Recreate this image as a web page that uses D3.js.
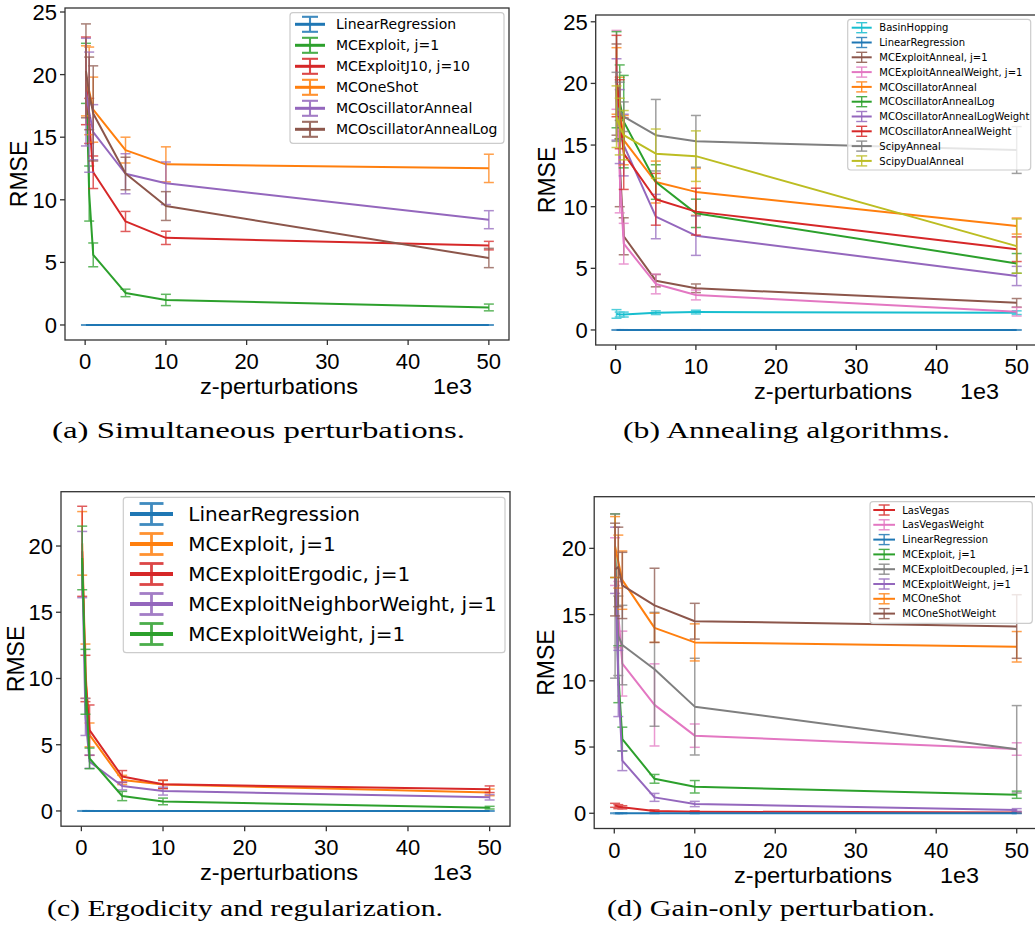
<!DOCTYPE html>
<html>
<head>
<meta charset="utf-8">
<script src="https://cdn.jsdelivr.net/npm/d3@7"></script>
<style>
  body { margin: 0; background: #fff; }
  svg text { font-family: "Liberation Sans", Arial, sans-serif; fill: #000; }
</style>
</head>
<body>
<svg id="fig" width="1035" height="930"></svg>
<script>
// x positions in units of 1e3 z-perturbations
const xVals = [0.1, 0.5, 1, 5, 10, 50];
const xTicks = [0, 10, 20, 30, 40, 50];

// tab10 colours
const C = {blue: "#1f77b4", orange: "#ff7f0e", green: "#2ca02c", red: "#d62728", purple: "#9467bd",
           brown: "#8c564b", pink: "#e377c2", gray: "#7f7f7f", olive: "#bcbd22", cyan: "#17becf"};

// (a) Simultaneous perturbations
const namesA = ["LinearRegression", "MCExploit, j=1", "MCExploitJ10, j=10", "MCOneShot", "MCOscillatorAnneal", "MCOscillatorAnnealLog"];
const colorsA = [C.blue, C.green, C.red, C.orange, C.purple, C.brown];
const meanA = [
  [0, 0, 0, 0, 0, 0],
  [20.1, 10.5, 5.6, 2.56, 2.0, 1.4],
  [19.5, 16.3, 12.2, 8.27, 6.96, 6.34],
  [19.5, 18.7, 17.2, 13.97, 12.83, 12.51],
  [18.6, 17.0, 15.4, 12.08, 11.32, 8.41],
  [20.3, 18.5, 16.9, 12.1, 9.5, 5.35]
];
const errA = [
  [0.02, 0.02, 0.02, 0.02, 0.02, 0.02],
  [2.4, 2.2, 0.95, 0.3, 0.45, 0.27],
  [3.5, 1.8, 1.3, 0.8, 0.53, 0.34],
  [2.8, 3.5, 2.6, 1.03, 1.4, 1.13],
  [4.3, 4.8, 2.2, 1.6, 1.7, 0.72],
  [3.75, 2.9, 3.8, 1.3, 1.15, 0.77]
];

// (b) Annealing algorithms
const namesB = ["BasinHopping", "LinearRegression", "MCExploitAnneal, j=1", "MCExploitAnnealWeight, j=1", "MCOscillatorAnneal",
                "MCOscillatorAnnealLog", "MCOscillatorAnnealLogWeight", "MCOscillatorAnnealWeight", "ScipyAnneal", "ScipyDualAnneal"];
const colorsB = [C.cyan, C.blue, C.brown, C.pink, C.orange, C.green, C.purple, C.red, C.gray, C.olive];
const meanB = [
  [1.3, 1.25, 1.25, 1.4, 1.45, 1.4],
  [0, 0, 0, 0, 0, 0],
  [19.5, 13.5, 7.6, 4.0, 3.38, 2.2],
  [21.1, 12.5, 7.0, 3.73, 2.84, 1.48],
  [20.2, 18.0, 15.4, 12.0, 11.2, 8.43],
  [20.3, 18.5, 16.9, 12.0, 9.46, 5.4],
  [18.7, 16.5, 15.0, 9.2, 7.65, 4.38],
  [20.6, 17.5, 14.3, 10.6, 9.6, 6.55],
  [18.1, 17.8, 17.3, 15.8, 15.3, 14.6],
  [17.3, 16.5, 15.8, 14.3, 14.1, 6.8]
];
const errB = [
  [0.35, 0.2, 0.2, 0.15, 0.15, 0.15],
  [0.02, 0.02, 0.02, 0.02, 0.02, 0.02],
  [3.7, 3.5, 1.5, 0.5, 0.35, 0.35],
  [3.2, 3.0, 1.65, 0.8, 0.4, 0.35],
  [2.7, 2.5, 2.0, 1.7, 1.9, 0.65],
  [3.9, 3.0, 3.75, 1.4, 1.15, 0.8],
  [3.3, 3.0, 2.5, 1.8, 1.6, 0.78],
  [3.3, 2.8, 2.9, 2.1, 1.9, 1.0],
  [2.8, 2.3, 1.2, 2.9, 2.1, 1.9],
  [2.5, 2.3, 2.0, 2.0, 2.05, 2.2]
];

// (c) Ergodicity and regularization
const namesC = ["LinearRegression", "MCExploit, j=1", "MCExploitErgodic, j=1", "MCExploitNeighborWeight, j=1", "MCExploitWeight, j=1"];
const colorsC = [C.blue, C.orange, C.red, C.purple, C.green];
const meanC = [
  [0, 0, 0, 0, 0, 0],
  [20.2, 10.55, 5.74, 2.34, 2.0, 1.4],
  [19.6, 10.0, 6.1, 2.6, 2.01, 1.64],
  [18.6, 7.1, 3.72, 1.89, 1.5, 1.03],
  [19.1, 9.75, 3.97, 1.13, 0.72, 0.25]
];
const errC = [
  [0.02, 0.02, 0.02, 0.02, 0.02, 0.02],
  [2.4, 2.05, 0.9, 0.35, 0.3, 0.25],
  [3.4, 1.75, 1.9, 0.45, 0.32, 0.25],
  [2.5, 1.4, 0.5, 0.3, 0.3, 0.2],
  [2.4, 2.45, 0.78, 0.35, 0.25, 0.1]
];

// (d) Gain-only perturbation
const namesD = ["LasVegas", "LasVegasWeight", "LinearRegression", "MCExploit, j=1", "MCExploitDecoupled, j=1",
                "MCExploitWeight, j=1", "MCOneShot", "MCOneShotWeight"];
const colorsD = [C.red, C.pink, C.blue, C.green, C.gray, C.purple, C.orange, C.brown];
const meanD = [
  [0.6, 0.5, 0.45, 0.18, 0.12, 0.05],
  [19.0, 15.0, 11.3, 8.18, 5.86, 4.85],
  [0, 0, 0, 0, 0, 0],
  [20.2, 10.5, 5.6, 2.6, 2.0, 1.4],
  [16.4, 13.4, 12.7, 10.87, 8.05, 4.83],
  [19.1, 9.8, 3.97, 1.2, 0.7, 0.25],
  [20.1, 19.0, 17.6, 14.0, 12.9, 12.57],
  [18.4, 18.6, 17.2, 15.7, 14.5, 14.1]
];
const errD = [
  [0.15, 0.15, 0.12, 0.08, 0.06, 0.05],
  [1.8, 2.5, 2.45, 3.1, 0.88, 0.47],
  [0.02, 0.02, 0.02, 0.02, 0.02, 0.02],
  [2.4, 2.15, 0.9, 0.33, 0.47, 0.27],
  [6.2, 3.0, 3.0, 4.3, 3.65, 3.3],
  [2.5, 2.5, 0.75, 0.3, 0.2, 0.1],
  [2.3, 2.0, 2.2, 1.1, 1.4, 1.15],
  [3.5, 3.0, 2.5, 2.8, 1.35, 2.4]
];

const svg = d3.select("#fig");

const panels = [
  {names: namesA, colors: colorsA, mean: meanA, err: errA,
   left: 65, right: 509, top: 8, bottom: 340, yDom: [-1.2, 25.32], yTicks: [0, 5, 10, 15, 20, 25],
   ylabX: 19, xlabX: 279, offX: 433,
   leg: {x: 290, y: 12.7, w: 214, h: 130.6, row0: 24.3, dy: 21, font: 14, hx0: 295, hx1: 325, tx: 336, hh: 7.5, cw: 8, lw: 3},
   caption: "(a) Simultaneous perturbations.", capX: 52, capW: 413, capY: 438},
  {names: namesB, colors: colorsB, mean: meanB, err: errB,
   left: 595.7, right: 1036.7, top: 15, bottom: 345, yDom: [-1.22, 25.55], yTicks: [0, 5, 10, 15, 20, 25],
   ylabX: 546.5, xlabX: 833, offX: 960,
   leg: {x: 847.7, y: 19.3, w: 183, h: 150.7, row0: 27.7, dy: 14.8, font: 10, hx0: 851.7, hx1: 871.7, tx: 879.3, hh: 5, cw: 5.5, lw: 2},
   caption: "(b) Annealing algorithms.", capX: 623, capW: 327, capY: 438},
  {names: namesC, colors: colorsC, mean: meanC, err: errC,
   left: 61, right: 510, top: 491.7, bottom: 826.2, yDom: [-1.15, 24.1], yTicks: [0, 5, 10, 15, 20],
   ylabX: 16, xlabX: 279, offX: 433,
   leg: {x: 123.3, y: 497.3, w: 381.7, h: 155.4, row0: 514, dy: 30, font: 20, hx0: 130, hx1: 173, tx: 188.3, hh: 10.5, cw: 12, lw: 4},
   caption: "(c) Ergodicity and regularization.", capX: 47, capW: 396, capY: 916},
  {names: namesD, colors: colorsD, mean: meanD, err: errD,
   left: 594.2, right: 1036.8, top: 496.7, bottom: 828.5, yDom: [-1.15, 23.9], yTicks: [0, 5, 10, 15, 20],
   ylabX: 546, xlabX: 813, offX: 940,
   leg: {x: 870, y: 501.7, w: 162.3, h: 121.6, row0: 510, dy: 14.8, font: 10, hx0: 873.3, hx1: 895, tx: 902.3, hh: 5, cw: 5.5, lw: 2},
   caption: "(d) Gain-only perturbation.", capX: 607, capW: 328, capY: 916}
];

panels.forEach(drawPanel);

function drawPanel(p) {
  const g = svg.append("g");
  const x = d3.scaleLinear().domain([-2.495, 52.495]).range([p.left, p.right]);
  const y = d3.scaleLinear().domain(p.yDom).range([p.bottom, p.top]);

  // series: line + error bars
  const line = d3.line().x((d, i) => x(xVals[i])).y(d => y(d));
  p.mean.forEach((m, s) => {
    const col = p.colors[s];
    const sg = g.append("g");
    sg.append("path").attr("d", line(m)).attr("fill", "none")
      .attr("stroke", col).attr("stroke-width", 2).attr("stroke-linejoin", "round");
    const eb = sg.append("g").attr("stroke", col).attr("stroke-width", 1.5).attr("opacity", 0.75);
    m.forEach((v, i) => {
      const cx = x(xVals[i]), y0 = y(v - p.err[s][i]), y1 = y(v + p.err[s][i]);
      eb.append("line").attr("x1", cx).attr("x2", cx).attr("y1", y0).attr("y2", y1);
      eb.append("line").attr("x1", cx - 5).attr("x2", cx + 5).attr("y1", y0).attr("y2", y0);
      eb.append("line").attr("x1", cx - 5).attr("x2", cx + 5).attr("y1", y1).attr("y2", y1);
    });
  });

  // frame
  g.append("rect").attr("x", p.left).attr("y", p.top)
    .attr("width", p.right - p.left).attr("height", p.bottom - p.top)
    .attr("fill", "none").attr("stroke", "#333").attr("stroke-width", 1.3);

  // x ticks
  xTicks.forEach(t => {
    g.append("line").attr("x1", x(t)).attr("x2", x(t)).attr("y1", p.bottom).attr("y2", p.bottom + 5)
      .attr("stroke", "#333").attr("stroke-width", 1.3);
    g.append("text").attr("x", x(t)).attr("y", p.bottom + 29).attr("text-anchor", "middle")
      .attr("font-size", 22).text(t);
  });
  // y ticks
  p.yTicks.forEach(t => {
    g.append("line").attr("x1", p.left - 5).attr("x2", p.left).attr("y1", y(t)).attr("y2", y(t))
      .attr("stroke", "#333").attr("stroke-width", 1.3);
    g.append("text").attr("x", p.left - 8).attr("y", y(t)).attr("dy", "0.36em").attr("text-anchor", "end")
      .attr("font-size", 22).text(t);
  });

  // axis labels
  g.append("text").attr("transform", `translate(${p.ylabX},${(p.top + p.bottom) / 2}) rotate(-90)`)
    .attr("dy", "0.36em").attr("text-anchor", "middle").attr("font-size", 23).text("RMSE");
  g.append("text").attr("x", p.xlabX - 79).attr("y", p.bottom + 54)
    .attr("font-size", 22).attr("textLength", 158).attr("lengthAdjust", "spacingAndGlyphs").text("z-perturbations");
  g.append("text").attr("x", p.offX).attr("y", p.bottom + 54).attr("font-size", 22)
    .attr("textLength", 39).attr("lengthAdjust", "spacingAndGlyphs").text("1e3");

  // legend
  const L = p.leg;
  const lg = g.append("g");
  lg.append("rect").attr("x", L.x).attr("y", L.y).attr("width", L.w).attr("height", L.h)
    .attr("rx", 3).attr("fill", "#fff").attr("fill-opacity", 0.8).attr("stroke", "#ccc").attr("stroke-width", 1.2);
  p.names.forEach((n, s) => {
    const cy = L.row0 + s * L.dy, hc = (L.hx0 + L.hx1) / 2, col = p.colors[s];
    lg.append("line").attr("x1", L.hx0).attr("x2", L.hx1).attr("y1", cy).attr("y2", cy)
      .attr("stroke", col).attr("stroke-width", L.lw);
    const hb = lg.append("g").attr("stroke", col).attr("stroke-width", L.lw * 0.7).attr("opacity", 0.85);
    hb.append("line").attr("x1", hc).attr("x2", hc).attr("y1", cy - L.hh).attr("y2", cy + L.hh);
    hb.append("line").attr("x1", hc - L.cw).attr("x2", hc + L.cw).attr("y1", cy - L.hh).attr("y2", cy - L.hh);
    hb.append("line").attr("x1", hc - L.cw).attr("x2", hc + L.cw).attr("y1", cy + L.hh).attr("y2", cy + L.hh);
    lg.append("text").attr("x", L.tx).attr("y", cy).attr("dy", "0.36em")
      .style("font-family", '"DejaVu Sans", sans-serif').attr("font-size", L.font).text(n);
  });

  // caption
  svg.append("text").attr("x", p.capX).attr("y", p.capY)
    .style("font-family", '"Liberation Serif", "DejaVu Serif", serif').attr("font-size", 23)
    .attr("textLength", p.capW).attr("lengthAdjust", "spacingAndGlyphs").text(p.caption);
}
</script>
</body>
</html>
